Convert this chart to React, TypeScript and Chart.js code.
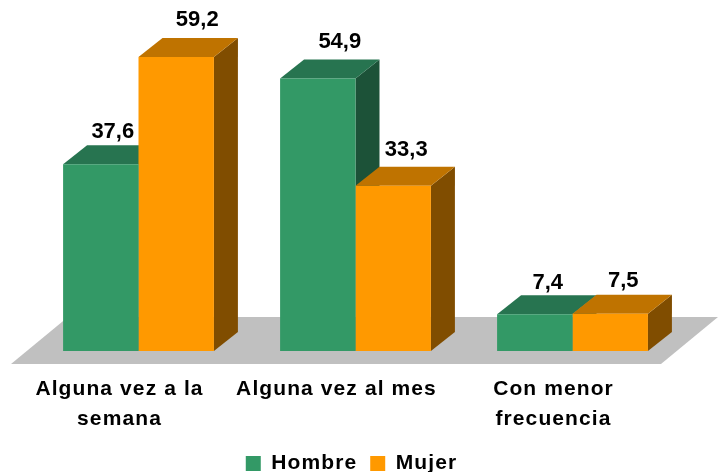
import React, { useEffect, useRef } from "react";
import { Chart, registerables } from "chart.js";

Chart.register(...registerables);

const categories = [["Alguna vez a la", "semana"], ["Alguna vez al mes"], ["Con menor", "frecuencia"]];
const hombre = [37.6, 54.9, 7.4];
const mujer = [59.2, 33.3, 7.5];

const FONT = '"Liberation Sans", Arial, sans-serif';
const SPACING = "1.1px";
const DEPTH_X = 24;
const DEPTH_Y = 19;
const faces = [
  { front: "#339966", top: "#277450", side: "#1c5238" },
  { front: "#FF9900", top: "#BF7300", side: "#804D00" },
];
const labelNudgeX = [[-2, 7], [8, -1], [-1, -1]];
const labelNudgeY = [[2, -3], [-2, -2], [3, 1]];

function poly(ctx: CanvasRenderingContext2D, pts: number[][], fill: string) {
  ctx.fillStyle = fill;
  ctx.beginPath();
  pts.forEach(([x, y], i) => (i ? ctx.lineTo(x, y) : ctx.moveTo(x, y)));
  ctx.closePath();
  ctx.fill();
}

const spacingPlugin = {
  id: "spacing",
  beforeLayout(chart: any) {
    chart.ctx.letterSpacing = SPACING;
  },
  afterLayout(chart: any) {
    chart.legend.left -= 4;
    chart.legend.right -= 4;
  },
  beforeDraw(chart: any) {
    chart.ctx.letterSpacing = SPACING;
  },
};

const bars3d = {
  id: "bars3d",
  beforeDatasetsDraw(chart: any) {
    const { ctx, chartArea } = chart;
    const base = chart.scales.y.getPixelForValue(0);
    const left = chartArea.left;
    const right = chartArea.right;
    poly(ctx, [
      [left - 19, base + 13],
      [right - 20, base + 13],
      [right + 37, base - 34],
      [left + 38, base - 34],
    ], "#C0C0C0");
    chart.data.labels.forEach((_: any, j: number) => {
      chart.data.datasets.forEach((_d: any, i: number) => {
        const el = chart.getDatasetMeta(i).data[j];
        const l = el.x - el.width / 2;
        const r = el.x + el.width / 2;
        const t = el.y;
        const b = el.base;
        poly(ctx, [[r, t], [r + DEPTH_X, t - DEPTH_Y], [r + DEPTH_X, b - DEPTH_Y], [r, b]], faces[i].side);
        poly(ctx, [[l, t], [l + DEPTH_X, t - DEPTH_Y], [r + DEPTH_X, t - DEPTH_Y], [r, t]], faces[i].top);
      });
    });
  },
  afterDatasetsDraw(chart: any) {
    const { ctx } = chart;
    ctx.save();
    ctx.font = `bold 22px ${FONT}`;
    ctx.letterSpacing = "0px";
    ctx.fillStyle = "#000";
    ctx.textAlign = "center";
    ctx.textBaseline = "middle";
    chart.data.datasets.forEach((d: any, i: number) => {
      chart.getDatasetMeta(i).data.forEach((el: any, j: number) => {
        const text = d.data[j].toFixed(1).replace(".", ",");
        ctx.fillText(text, el.x + 14 + labelNudgeX[j][i], el.y - DEPTH_Y - 15 + labelNudgeY[j][i]);
      });
    });
    ctx.restore();
  },
};

export default function App() {
  const ref = useRef<HTMLCanvasElement>(null);
  useEffect(() => {
    document.body.style.margin = "0";
    const chart = new Chart(ref.current!, {
      type: "bar",
      data: {
        labels: categories as any,
        datasets: [
          { label: "Hombre", data: hombre, backgroundColor: faces[0].front, categoryPercentage: 0.695, barPercentage: 1, borderWidth: 0 },
          { label: "Mujer", data: mujer, backgroundColor: faces[1].front, categoryPercentage: 0.695, barPercentage: 1, borderWidth: 0 },
        ],
      },
      options: {
        responsive: false,
        animation: false,
        layout: { padding: { left: 30, right: 37, top: 3.4, bottom: -12 } },
        plugins: {
          tooltip: { enabled: false },
          legend: {
            position: "bottom",
            labels: {
              boxWidth: 15,
              boxHeight: 15,
              padding: 13,
              color: "#000",
              font: { family: FONT, size: 21, weight: "bold" },
            },
          },
        },
        scales: {
          x: {
            grid: { display: false },
            border: { display: false },
            afterFit(scale: any) {
              scale.height = 89;
            },
            ticks: {
              maxRotation: 0,
              minRotation: 0,
              autoSkip: false,
              padding: 15,
              labelOffset: -19,
              color: "#000",
              font: { family: FONT, size: 21, weight: "bold", lineHeight: 1.43 },
            },
          },
          y: { display: false, min: 0, max: 70 },
        },
      },
      plugins: [spacingPlugin, bars3d],
    } as any);
    return () => chart.destroy();
  }, []);
  return (
    <div style={{ width: 718, height: 472, background: "#fff" }}>
      <canvas ref={ref} width={718} height={472} style={{ display: "block" }} />
    </div>
  );
}
